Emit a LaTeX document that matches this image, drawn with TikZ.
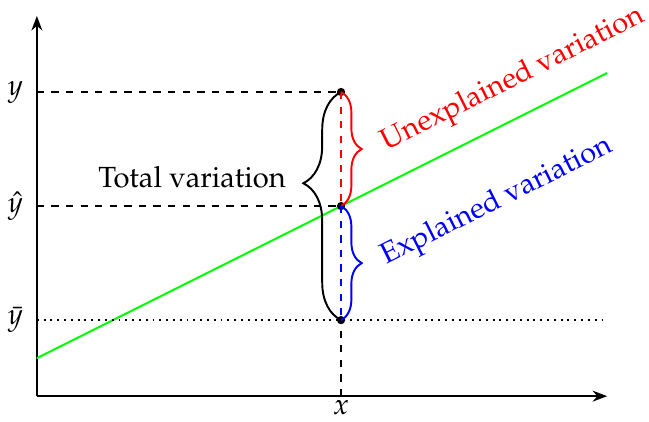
\documentclass[tikz,border=0pt]{standalone}
\usepackage[T1]{fontenc}
\usepackage{mathpazo}
\usepackage{tikz}
\usetikzlibrary{positioning, arrows.meta, decorations.pathreplacing}

\begin{document}
\begin{tikzpicture}[
    x=0.55cm, y=0.55cm,
    thick,
    axis/.style={-{Stealth[length=6pt]}, thick},
    guide/.style={dashed, thick},
    bigbrace/.style={decorate, decoration={brace, amplitude=15.5pt, aspect=0.6}},
    smallbrace/.style={decorate, decoration={brace, amplitude=8.5pt}},
    obs/.style={circle, fill, inner sep=0pt, minimum size=3.4pt},
    varlabel/.style={right=14pt, rotate=26.57, font=\large}
]
    \useasboundingbox (-0.97,-0.66) rectangle (16.1,10.42);

    % Axes
    \coordinate (O) at (0,0);
    \coordinate (xend) at (15,0);
    \coordinate (ytop) at (0,10);
    \draw[axis] (O) -- (xend);
    \draw[axis] (O) -- (ytop);

    % Regression line
    \coordinate (fitA) at (0,1);
    \coordinate (fitB) at (15,8.5);
    \draw[green, thick] (fitA) -- (fitB);

    % Observation and levels
    \node[obs] (Y) at (8,8) {};
    \node[obs] (Yhat) at (8,5) {};
    \node[obs] (Ybar) at (8,2) {};
    \coordinate (X) at (8,0);
    \coordinate (ly) at (0,8);
    \coordinate (lyhat) at (0,5);
    \coordinate (lybar) at (0,2);
    \coordinate (rybar) at (15,2);

    % Axis labels
    \node[left=2pt] at (ly) {\large $y$};
    \node[left=2pt] at (lyhat) {\large $\hat{y}$};
    \node[left=2pt] at (lybar) {\large $\bar{y}$};
    \node[below=1pt, inner sep=0.5pt] at (X) {\large $x$};

    % Guide lines
    \draw[guide] (ly) -- (Y.center);
    \draw[guide] (lyhat) -- (Yhat.center);
    \draw[dotted, thick] (lybar) -- (rybar);
    \draw[guide] (X) -- (Ybar.center);
    \draw[guide, red] (Y.center) -- (Yhat.center);
    \draw[guide, blue] (Yhat.center) -- (Ybar.center);

    % Braces
    \draw[bigbrace] (Ybar.center) -- node[pos=0.6, left=19pt, yshift=2.5pt, font=\large] {Total variation} (Y.center);
    \draw[smallbrace, red] (Y.center) -- node[midway, varlabel] {Unexplained variation} (Yhat.center);
    \draw[smallbrace, blue] (Yhat.center) -- node[midway, varlabel] {Explained variation} (Ybar.center);

\end{tikzpicture}
\end{document}
